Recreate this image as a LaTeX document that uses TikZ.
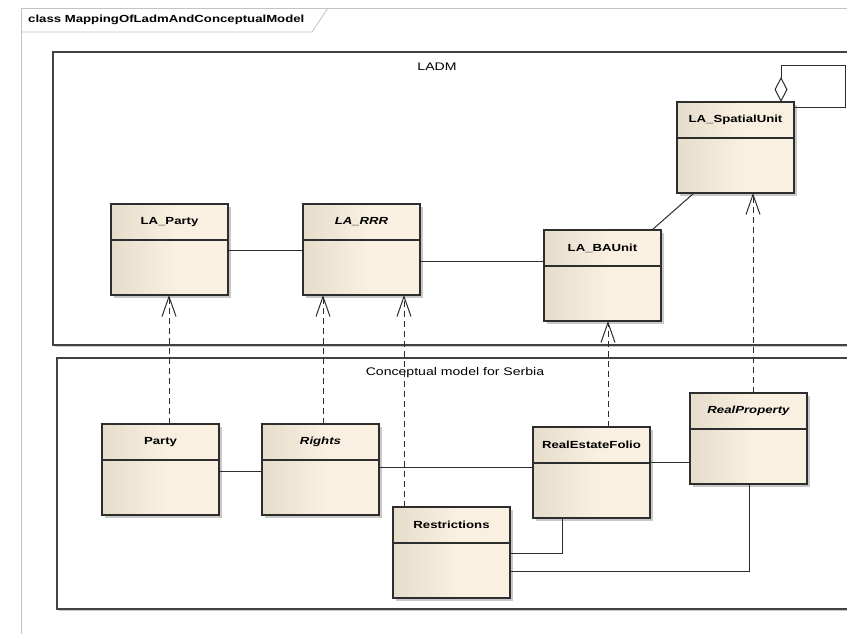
\documentclass[tikz,border=0pt]{standalone}
\usepackage{fontspec}
\setmainfont{Liberation Sans}
\newfontfamily\umlfont[FakeStretch=1.28]{Liberation Sans}
\usetikzlibrary{arrows.meta,shadows,calc}

\definecolor{boxL}{RGB}{229,220,204}
\definecolor{boxR}{RGB}{250,240,225}
\definecolor{edge}{RGB}{45,45,45}
\definecolor{framegrey}{RGB}{195,195,195}
\definecolor{shadowgrey}{RGB}{200,200,200}

% left-to-right fill of the class boxes (path spans 25bp..75bp)
\pgfdeclarehorizontalshading{umlfill}{100bp}{color(0bp)=(boxL); color(25bp)=(boxL); color(52bp)=(boxR); color(100bp)=(boxR)}

\tikzset{
  umlclass/.style={draw=edge, line width=1.2pt, shade, shading=umlfill,
    anchor=north west, minimum width=117pt, minimum height=91pt,
    inner sep=0pt, outer sep=0pt,
    drop shadow={shadow xshift=3pt, shadow yshift=-3pt, fill=shadowgrey, opacity=1}},
  umlname/.style={font=\umlfont\fontsize{10.3}{12}\selectfont\bfseries, inner sep=0pt},
  sepline/.style={draw=edge, line width=1.2pt},
  pkgbox/.style={draw=edge!90, line width=1.1pt, fill=white, anchor=north west,
    inner sep=0pt, outer sep=0pt,
    drop shadow={shadow xshift=1.5pt, shadow yshift=-1.5pt, fill=shadowgrey, opacity=1}},
  pkgname/.style={font=\umlfont\fontsize{11}{13}\selectfont, inner sep=0pt},
  assoc/.style={draw=edge, line width=1pt},
  realize/.style={draw=edge, line width=1pt, dash pattern=on 6pt off 4pt,
    -{Straight Barb[length=20pt,width=14pt,line width=1pt]}},
  frameline/.style={draw=framegrey, line width=0.8pt},
}

% class box: node name, x, y, label, font switch
\newcommand\umlbox[5]{%
  \node[umlclass] (#1) at (#2,#3) {};
  \node[umlname] (#1-name) at ([yshift=-18pt]#1.north) {#5#4};
  \draw[sepline] ([yshift=-36pt]#1.north west) -- ([yshift=-36pt]#1.north east);
}

\begin{document}
\begin{tikzpicture}[x=1pt, y=-1pt]
  \clip (0,0) rectangle (847,633);
  \fill[white] (0,0) rectangle (847,633);

  % diagram frame with its name tab
  \draw[frameline] (21,650) -- (21,8) -- (870,8);
  \draw[frameline] (21,32) -- (312,32) -- (328,8);
  \node[umlname, anchor=west] (title) at (28,20) {class MappingOfLadmAndConceptualModel};

  % packages
  \node[pkgbox, minimum width=830pt, minimum height=293pt] (ladm) at (53,52) {};
  \node[pkgname] (ladm-name) at (437,67) {LADM};
  \node[pkgbox, minimum width=830pt, minimum height=251pt] (cms) at (57,358) {};
  \node[pkgname] (cms-name) at (455,373) {Conceptual model for Serbia};

  % LADM classes
  \umlbox{su}{677}{102}{LA\_SpatialUnit}{}
  \umlbox{lap}{111}{204}{LA\_Party}{}
  \umlbox{rrr}{303}{204}{LA\_RRR}{\itshape}
  \umlbox{bau}{544}{230}{LA\_BAUnit}{}

  % conceptual model classes
  \umlbox{party}{102}{424}{Party}{}
  \umlbox{rights}{262}{424}{Rights}{\itshape}
  \umlbox{ref}{533}{427}{RealEstateFolio}{}
  \umlbox{rp}{690}{393}{RealProperty}{\itshape}
  \umlbox{restr}{393}{507}{Restrictions}{}

  % LADM associations
  \draw[assoc] ([yshift=-46pt]lap.north east) -- ([yshift=-46pt]lap.north east -| rrr.west);
  \draw[assoc] ([yshift=-57pt]rrr.north east) -- ([yshift=-57pt]rrr.north east -| bau.west);
  \draw[assoc] ([xshift=-9pt]bau.north east) -- ([xshift=17pt]su.south west);
  \coordinate (loop) at (845,65);
  \draw[assoc, {Diamond[open, length=25pt, width=13pt, line width=1pt]}-]
    ([xshift=-13pt]su.north east) |- (loop) |- ([yshift=-5pt]su.north east);

  % conceptual model associations
  \draw[assoc] ([yshift=-47pt]party.north east) -- ([yshift=-47pt]party.north east -| rights.west);
  \draw[assoc] ([yshift=-43pt]rights.north east) -- ([yshift=-43pt]rights.north east -| ref.west);
  \draw[assoc] ([yshift=-35pt]ref.north east) -- ([yshift=-35pt]ref.north east -| rp.west);
  \draw[assoc] ([yshift=-46pt]restr.north east) -| ([xshift=29pt]ref.south west);
  \draw[assoc] ([yshift=-64pt]restr.north east) -| ([xshift=59pt]rp.south west);

  % realizations
  \draw[realize] ([xshift=67pt]party.north west) -- ([xshift=67pt]party.north west |- lap.south);
  \draw[realize] ([xshift=61pt]rights.north west) -- ([xshift=61pt]rights.north west |- rrr.south);
  \draw[realize] ([xshift=11pt]restr.north west) -- ([xshift=11pt]restr.north west |- rrr.south);
  \draw[realize] ([xshift=75pt]ref.north west) -- ([xshift=75pt]ref.north west |- bau.south);
  \draw[realize] ([xshift=63pt]rp.north west) -- ([xshift=63pt]rp.north west |- su.south);
\end{tikzpicture}
\end{document}
